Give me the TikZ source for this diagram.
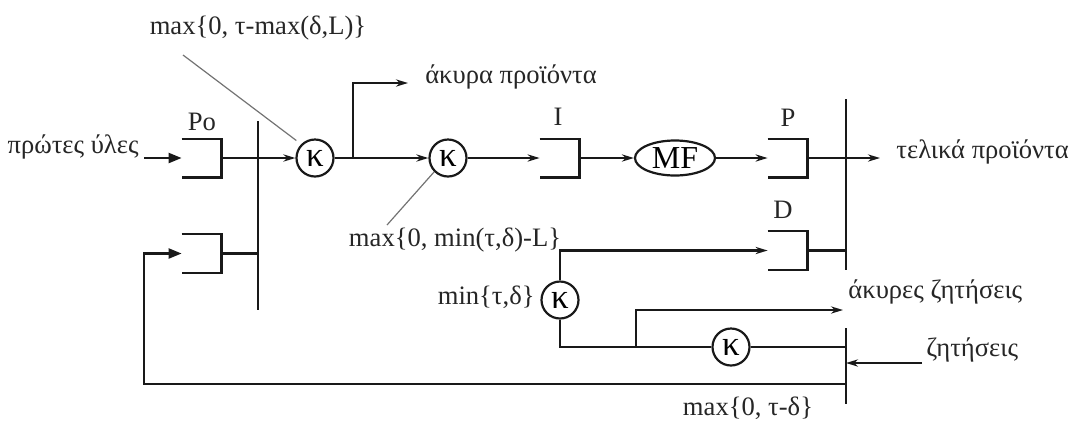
\documentclass[tikz,border=0pt]{standalone}
\usepackage{fontspec}
\setmainfont{Liberation Serif}
\usetikzlibrary{arrows.meta,shapes.geometric}
\tikzset{
  ln/.style={line width=1.1pt, black!90, line join=miter},
  sa/.style={ln, -{Stealth[length=6pt,width=3.6pt]}},
  ba/.style={ln, -{Triangle[length=6.5pt,width=5pt]}},
  lead/.style={line width=0.6pt, black!55},
  brk/.style={minimum width=19.5pt, minimum height=19pt, inner sep=0pt, draw=none},
  kap/.style={circle, draw, line width=1.1pt, black!90, text=black, minimum size=18.5pt, inner sep=0pt, font=\fontsize{17.5}{19}\selectfont},
  lbl/.style={font=\fontsize{13.3}{15}\selectfont, inner sep=0pt, text=black!85},
}
\begin{document}
\begin{tikzpicture}[x=0.5pt,y=-0.5pt]
\useasboundingbox (0,0) rectangle (1072,425);

% bracket boxes
\node[brk] (Po) at (201.5,158) {};
\node[brk] (Lb) at (201.5,253.5) {};
\node[brk] (I)  at (559.5,158) {};
\node[brk] (P)  at (787.5,158) {};
\node[brk] (D)  at (787.5,250.5) {};
\foreach \b in {Po,Lb,I,P,D}
  \draw[ln] (\b.north west) -- (\b.north east) -- (\b.south east) -- (\b.south west);

% circles and ellipse
\node[kap] (k1) at (315,158) {κ};
\node[kap] (k2) at (448,158) {κ};
\node[kap] (k3) at (560,300) {κ};
\node[kap] (k4) at (731,347) {κ};
\node[ellipse, draw, line width=1.1pt, black!90, text=black, minimum width=40pt, minimum height=17.5pt, inner sep=-1.5pt,
      font=\fontsize{16}{18}\selectfont] (MF) at (675,158) {MF};

% bars
\coordinate (LBt) at (258,121);
\coordinate (LBb) at (258,310);
\coordinate (RBt) at (846,99);
\coordinate (RBm1) at (846,270);
\coordinate (RBm2) at (846,328);
\coordinate (RBb) at (846,404);
\draw[ln] (LBt) -- (LBb);
\draw[ln] (RBt) -- (RBm1);
\draw[ln] (RBm2) -- (RBb);

% labels
\node[lbl] (lPo) at (202,122) {Po};
\node[lbl] (lI)  at (558,117) {I};
\node[lbl] (lP)  at (788,118) {P};
\node[lbl] (lD)  at (783,210) {D};
\node[lbl] (t1) at (258,28) {max\{0, τ-max(δ,L)\}};
\node[lbl] (t2) at (511,77) {άκυρα προϊόντα};
\node[lbl, anchor=west] (t3) at (896,152) {τελικά προϊόντα};
\node[lbl, anchor=east] (t4) at (139,147) {πρώτες ύλες};
\node[lbl] (t5) at (455,240) {max\{0, min(τ,δ)-L\}};
\node[lbl, anchor=east] (t6) at (535,297) {min\{τ,δ\}};
\node[lbl, anchor=west] (t7) at (848,292) {άκυρες ζητήσεις};
\node[lbl, anchor=west] (t8) at (926,350) {ζητήσεις};
\node[lbl] (t9) at (748,408) {max\{0, τ-δ\}};

% leader lines
\coordinate (c1) at (183,55);
\coordinate (c2) at (387,225);
\draw[lead, shorten >=3pt] (c1) -- (k1.north west);
\draw[lead] (k2.225) -- (c2);

% main flow
\coordinate (in1) at (144,158);
\draw[ba] (in1) -- (Po.west);
\draw[sa] (Po.east) -- (k1.west);
\draw[sa] (k1.east) -- (k2.west);
\coordinate (j1) at (353,158);
\coordinate (ak1) at (408,83);
\draw[sa] (j1) |- (ak1);
\draw[sa] (k2.east) -- (I.west);
\draw[sa] (I.east) -- (MF.west);
\draw[sa] (MF.east) -- (P.west);
\coordinate (out) at (880,158);
\draw[sa] (P.east) -- (out);

% lower box to left bar
\draw[ln] (Lb.east) -- (Lb.east -| LBt);

% demand side
\draw[sa] (k3.north) |- (D.west);
\draw[ln] (D.east) -- (D.east -| RBt);
\draw[ln] (k3.south) |- (k4.west);
\draw[ln] (k4.east) -- (k4.east -| RBt);
\coordinate (j2) at (636,347);
\coordinate (ak2) at (843,310);
\draw[sa] (j2) |- (ak2);
\coordinate (dm) at (922,363);
\coordinate (dmb) at (846,363);
\draw[sa] (dm) -- (dmb);

% feedback
\coordinate (fb1) at (846,384);
\coordinate (fb2) at (144,384);
\draw[ba] (fb1) -- (fb2) |- (Lb.west);
\end{tikzpicture}
\end{document}
